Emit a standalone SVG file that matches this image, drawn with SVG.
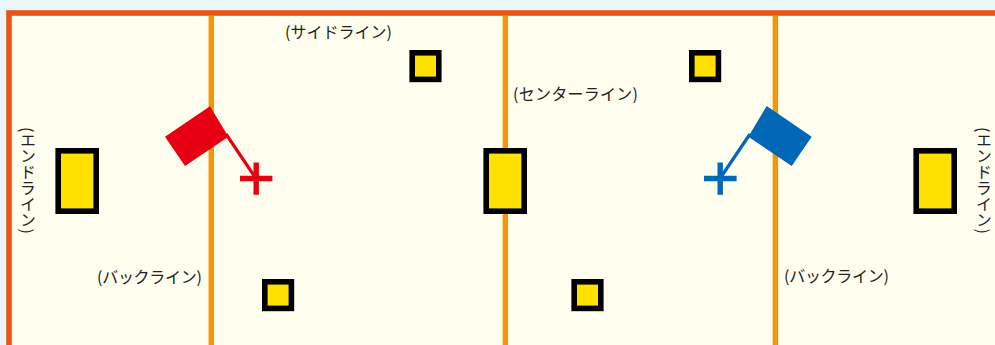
<svg xmlns="http://www.w3.org/2000/svg" width="995" height="345" viewBox="0 0 995 345">
<style>
.post{fill:#ffe100;stroke:#000;stroke-width:5.6}
.line{fill:none;stroke:#f39800;stroke-width:5.4}
text{font-family:"Noto Sans CJK JP","Noto Sans",sans-serif;font-size:16px;fill:#222}
.v{writing-mode:vertical-rl}
.red{fill:none;stroke:#e60012}
.blue{fill:none;stroke:#0068b7}
</style>
<rect x="0" y="0" width="995" height="345" fill="#eaf6f8"/>
<g id="field">
<rect x="9" y="13" width="1000" height="345" fill="#fffeef" stroke="#ea5514" stroke-width="5.6"/>
</g>
<g id="lines">
<path class="line" d="M211.300 16V345M505.300 16V345M775.400 16V345"/>
</g>
<g id="connectors">
<path class="red" stroke-width="3.200" d="M226 134L256 178.500"/>
<path class="blue" stroke-width="3.200" d="M750 134L720 178.500"/>
</g>
<g id="post-end-left"><rect class="post" x="58.200" y="150.800" width="38" height="60.400"/></g>
<g id="post-center"><rect class="post" x="486.200" y="150.800" width="38" height="60.400"/></g>
<g id="post-end-right"><rect class="post" x="916.200" y="150.800" width="38" height="60.400"/></g>
<g id="post-side-top-1"><rect class="post" x="412.200" y="52.800" width="26.600" height="26.600"/></g>
<g id="post-side-top-2"><rect class="post" x="691.800" y="52.800" width="26.600" height="26.600"/></g>
<g id="post-side-bottom-1"><rect class="post" x="264.800" y="281.800" width="26.600" height="26.600"/></g>
<g id="post-side-bottom-2"><rect class="post" x="574.200" y="281.800" width="26.600" height="26.600"/></g>
<g id="flag-red">
<polygon points="210,106.200 165,136.700 185,165.900 228.500,136.700" fill="#e60012"/>
<path class="red" stroke-width="5.400" d="M240 178.500H272.400M256.200 162.500V194.700"/>
</g>
<g id="flag-blue">
<polygon points="766.700,106 811.700,136.700 791.700,166 748.300,136.700" fill="#0068b7"/>
<path class="blue" stroke-width="5.400" d="M704 178.500H736.600M720.200 162.500V194.700"/>
</g>
<g id="label-side"><text x="285" y="38">(サイドライン)</text></g>
<g id="label-center"><text x="513" y="100" textLength="125">(センターライン)</text></g>
<g id="label-back-left"><text x="97" y="283" textLength="105">(バックライン)</text></g>
<g id="label-back-right"><text x="784" y="282" textLength="105">(バックライン)</text></g>
<g id="label-end-left"><text class="v" x="28" y="127">(エンドライン)</text></g>
<g id="label-end-right"><text class="v" x="984" y="127">(エンドライン)</text></g>
</svg>
